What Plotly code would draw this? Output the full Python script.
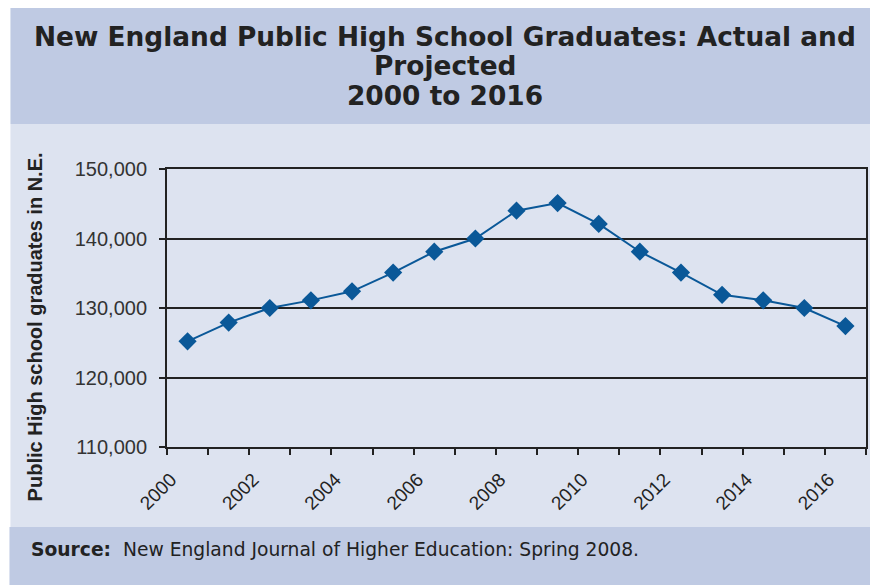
import plotly.graph_objects as go

# New England public high school graduates, actual and projected
years = list(range(2000, 2017))
graduates = [125200, 127900, 130000, 131100, 132400, 135100, 138100, 140000,
             144000, 145100, 142100, 138100, 135100, 131900, 131100, 130000, 127400]
y_ticks = [110000, 120000, 130000, 140000, 150000]
y_tick_text = ["110,000", "120,000", "130,000", "140,000", "150,000"]
x_ticks = list(range(2000, 2017, 2))
title_lines = ["New England Public High School Graduates: Actual and",
               "Projected",
               "2000 to 2016"]

W, H = 873, 585
L, R, T, B = 167, 5, 169, 138
PW, PH = W - L - R, H - T - B


def px(x):
    return (x - L) / PW


def py(y):
    return (H - B - y) / PH


BAND_DARK = "#bfcae3"
BAND_LIGHT = "#dde3f0"
LINE = "#0a5898"
INK = "#222222"

fig = go.Figure()
fig.add_trace(go.Scatter(
    x=[y + 0.5 for y in years], y=graduates,
    mode="lines+markers",
    line=dict(color=LINE, width=2),
    marker=dict(symbol="diamond", size=14, color=LINE),
    showlegend=False,
    hoverinfo="x+y",
))

shapes = [
    dict(type="rect", xref="paper", yref="paper", layer="below",
         x0=px(10), x1=px(872), y0=py(124), y1=py(8),
         fillcolor=BAND_DARK, line=dict(width=0)),
    dict(type="rect", xref="paper", yref="paper", layer="below",
         x0=px(10), x1=px(872), y0=py(527), y1=py(124),
         fillcolor=BAND_LIGHT, line=dict(width=0)),
    dict(type="rect", xref="paper", yref="paper", layer="below",
         x0=px(9), x1=px(872), y0=py(585), y1=py(527),
         fillcolor=BAND_DARK, line=dict(width=0)),
]

annotations = []
for i, line in enumerate(title_lines):
    annotations.append(dict(
        text="<b>" + line + "</b>",
        xref="paper", yref="paper", x=px(446), y=py(36 + 29.5 * i),
        xanchor="center", yanchor="middle", showarrow=False,
        font=dict(family="DejaVu Sans", size=26.4, color=INK)))

annotations += [
    dict(text="<b>Source:</b>  New England Journal of Higher Education: Spring 2008.",
         xref="paper", yref="paper", x=px(29), y=py(549), xanchor="left", yanchor="middle",
         showarrow=False, font=dict(family="DejaVu Sans", size=18.7, color=INK)),
    dict(text="<b>Public High school graduates in N.E.</b>",
         xref="paper", yref="paper", x=px(35), y=py(327), xanchor="center", yanchor="middle",
         textangle=-90, showarrow=False,
         font=dict(family="Liberation Sans, Arial", size=20, color=INK)),
]

fig.update_layout(
    width=W, height=H,
    margin=dict(l=L, r=R, t=T, b=B, pad=0),
    paper_bgcolor="white",
    plot_bgcolor="white",
    shapes=shapes,
    annotations=annotations,
    xaxis=dict(
        range=[2000, 2017],
        tickmode="array", tickvals=list(range(2000, 2018)),
        ticktext=[str(v) if v in x_ticks else "" for v in range(2000, 2018)],
        tickangle=-45, ticklabelstandoff=6, ticklabelshift=4,
        ticks="outside", ticklen=6, tickwidth=1.5, tickcolor=INK,
        showgrid=False, zeroline=False,
        showline=True, linecolor=INK, linewidth=2, mirror=True,
        tickfont=dict(family="Liberation Sans, Arial", size=19, color=INK),
    ),
    yaxis=dict(
        range=[110000, 150000],
        tickmode="array", tickvals=y_ticks, ticktext=y_tick_text,
        ticklabelstandoff=8,
        ticks="outside", ticklen=6, tickwidth=1.5, tickcolor=INK,
        showgrid=True, gridcolor=INK, gridwidth=1.5, zeroline=False,
        showline=True, linecolor=INK, linewidth=2, mirror=True,
        tickfont=dict(family="Liberation Sans, Arial", size=20, color="#333333"),
    ),
)

fig.write_html("out.html")
